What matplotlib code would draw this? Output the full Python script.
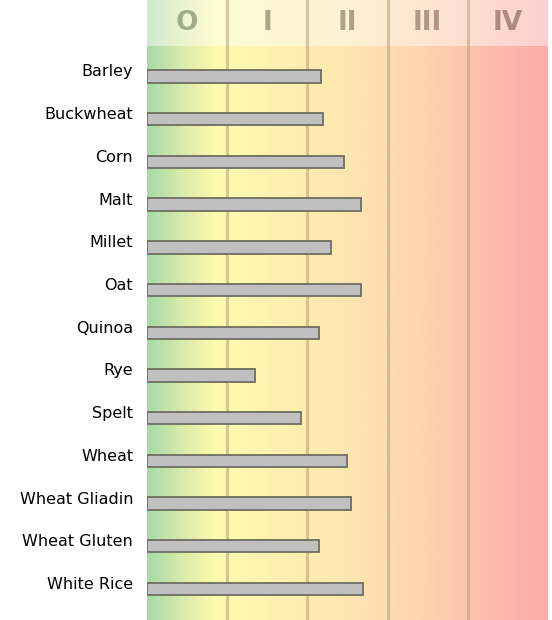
import matplotlib.pyplot as plt
import numpy as np
from matplotlib.colors import LinearSegmentedColormap
from matplotlib.transforms import ScaledTranslation

# data
grains = ['Barley', 'Buckwheat', 'Corn', 'Malt', 'Millet', 'Oat', 'Quinoa',
          'Rye', 'Spelt', 'Wheat', 'Wheat Gliadin', 'Wheat Gluten', 'White Rice']
levels = [2.17, 2.2, 2.46, 2.67, 2.29, 2.67, 2.15, 1.35, 1.92, 2.49, 2.54, 2.15, 2.69]
classes = ['O', 'I', 'II', 'III', 'IV']
class_colors = ['#7f8f6a', '#8a8a66', '#8c8266', '#8c7866', '#8a6a62']

plt.rcParams['font.family'] = 'DejaVu Sans'
fig = plt.figure(figsize=(5.52, 6.2), dpi=100)
ax = fig.add_axes([147 / 552, 0, 401 / 552, 1])

n = len(grains)
row = 42.71
top_y = -76.5 / row
bot_y = (n - 1) + 31 / row
ax.set_xlim(0, 5)
ax.set_ylim(bot_y, top_y)

# background gradient
bg = LinearSegmentedColormap.from_list('bg', [
    (0.0, '#a6dba8'), (0.04, '#bfe1a8'), (0.09, '#dcebaa'), (0.17, '#fdfbae'),
    (0.2, '#fff9b0'), (0.4, '#feecb0'), (0.5, '#fde6b0'), (0.6, '#fddcb0'),
    (0.7, '#fdd2ae'), (0.8, '#fdc4ae'), (1.0, '#fcaaaa')])
grad = np.linspace(0, 1, 500).reshape(1, -1)
ax.imshow(grad, cmap=bg, aspect='auto', extent=[0, 5, bot_y, top_y], zorder=0)

# header band
head_bottom = top_y + 46 / row
ax.axhspan(top_y, head_bottom, color='white', alpha=0.45, lw=0, zorder=1)
for i, c in enumerate(classes):
    ax.text(i + 0.5, (top_y + head_bottom) / 2, c, ha='center', va='center',
            fontsize=19, fontweight='bold', color=class_colors[i], alpha=0.7,
            zorder=3)

for x in range(1, 5):
    ax.axvline(x, color='#b8a07a', alpha=0.55, lw=2.3, zorder=2)

ypos = np.arange(n)
ax.barh(ypos, levels, height=0.29, left=0.0, color='#c0c0c0',
        edgecolor='#6e6e62', linewidth=1.3, zorder=4)

ax.set_yticks(ypos)
ax.set_yticklabels(grains, fontsize=11.5)
ax.tick_params(axis='y', length=0, pad=10)
shift = ScaledTranslation(0, 6 / 100, fig.dpi_scale_trans)
for lbl in ax.get_yticklabels():
    lbl.set_transform(lbl.get_transform() + shift)
ax.set_xticks([])
for s in ax.spines.values():
    s.set_visible(False)

fig.savefig('out.png', dpi=100)
